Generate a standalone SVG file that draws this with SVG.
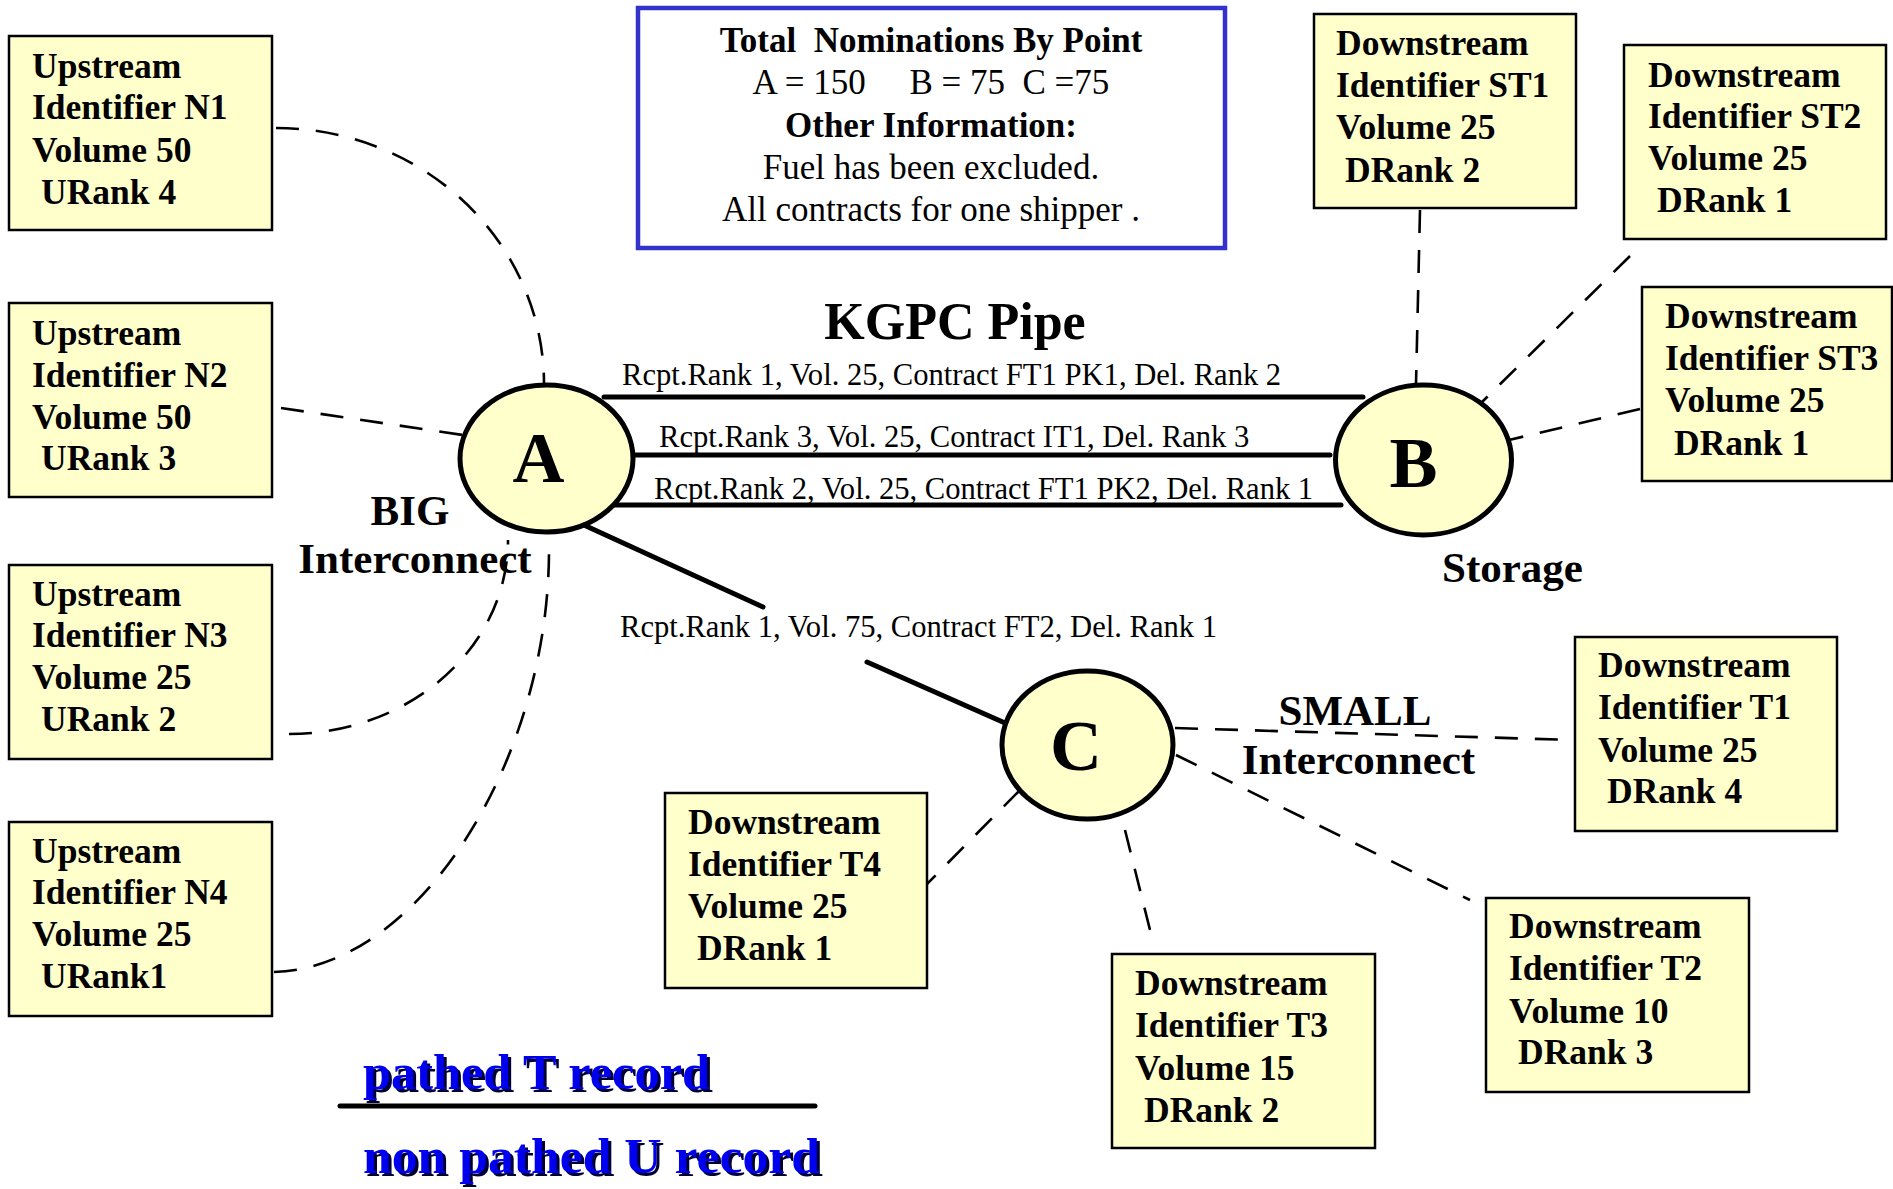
<svg xmlns="http://www.w3.org/2000/svg" width="1893" height="1189" viewBox="0 0 1893 1189">
<style>
  text { font-family: "Liberation Serif", "Times New Roman", serif; fill: #000; }
  .box { fill: #ffffcc; stroke: #000; stroke-width: 2.5; }
  .bt { font-weight: bold; font-size: 35.5px; }
  .node { fill: #ffffcc; stroke: #000; stroke-width: 5; }
  .big { font-weight: bold; font-size: 72px; text-anchor: middle; }
  .dash { fill: none; stroke: #000; stroke-width: 2.6; stroke-dasharray: 23 17; }
  .pipe { fill: none; stroke: #000; stroke-width: 5; stroke-linecap: round; }
  .lbl { font-size: 30.6px; }
  .tag { font-weight: bold; font-size: 43px; text-anchor: middle; }
  .info { font-size: 35px; text-anchor: middle; }
  .infob { font-weight: bold; }
  .leg { font-weight: bold; font-size: 50px; }
  .legfg { fill: #0000ee; }
  .legsh { fill: #000033; }
</style>

<g id="connectors">
  <path class="dash" d="M276,128 A268,256 0 0 1 544,384"/>
  <path class="dash" d="M281,408 L463,435"/>
  <path class="dash" d="M289,734 A219,194 0 0 0 508,540"/>
  <path class="dash" d="M274,972 C420,968 549,760 549,550"/>
  <path class="dash" d="M1420,210 L1416,384"/>
  <path class="dash" d="M1630,256 L1482,402"/>
  <path class="dash" d="M1640,409 L1509,440"/>
  <path class="dash" d="M1175,728 L1572,740"/>
  <path class="dash" d="M1176,755 L1470,900"/>
  <path class="dash" d="M1125,830 L1152,938"/>
  <path class="dash" d="M1020,790 L926,885"/>
  <line class="pipe" x1="604" y1="397" x2="1363" y2="397"/>
  <line class="pipe" x1="632" y1="455" x2="1330" y2="455"/>
  <line class="pipe" x1="611" y1="505" x2="1341" y2="505"/>
  <line class="pipe" x1="586" y1="526" x2="763" y2="607"/>
  <line class="pipe" x1="867" y1="662" x2="1005" y2="723"/>
  <text class="lbl" x="622" y="385">Rcpt.Rank 1, Vol. 25, Contract FT1 PK1, Del. Rank 2</text>
  <text class="lbl" x="659" y="447">Rcpt.Rank 3, Vol. 25, Contract IT1, Del. Rank 3</text>
  <text class="lbl" x="654" y="499">Rcpt.Rank 2, Vol. 25, Contract FT1 PK2, Del. Rank 1</text>
  <text class="lbl" x="620" y="637">Rcpt.Rank 1, Vol. 75, Contract FT2, Del. Rank 1</text>
</g>

<g id="info">
  <rect x="638" y="8" width="587" height="240" fill="#fff" stroke="#3333cc" stroke-width="4.5"/>
  <text class="info infob" x="931" y="52" xml:space="preserve">Total  Nominations By Point</text>
  <text class="info" x="931" y="94" xml:space="preserve">A = 150     B = 75  C =75</text>
  <text class="info infob" x="931" y="137">Other Information:</text>
  <text class="info" x="931" y="179">Fuel has been excluded.</text>
  <text class="info" x="931" y="221">All contracts for one shipper .</text>
</g>

<g id="title">
  <text x="955" y="339" font-weight="bold" font-size="52" text-anchor="middle">KGPC Pipe</text>
</g>

<g id="nodeA">
  <ellipse class="node" cx="546.5" cy="458.5" rx="86.5" ry="73.5"/>
  <text class="big" x="538.5" y="482">A</text>
  <text class="tag" x="410" y="525">BIG</text>
  <text class="tag" x="415" y="573">Interconnect</text>
</g>

<g id="nodeB">
  <ellipse class="node" cx="1423.5" cy="460" rx="88" ry="75"/>
  <text class="big" x="1413.5" y="487">B</text>
  <text class="tag" x="1512.5" y="582">Storage</text>
</g>

<g id="nodeC">
  <ellipse class="node" cx="1087.5" cy="745" rx="85.5" ry="74"/>
  <text class="big" x="1076" y="770">C</text>
  <text class="tag" x="1355" y="725">SMALL</text>
  <text class="tag" x="1358.5" y="774">Interconnect</text>
</g>

<g id="N1">
  <rect class="box" x="9" y="36" width="263" height="194"/>
  <text class="bt" x="32" y="78">Upstream</text>
  <text class="bt" x="32" y="119">Identifier N1</text>
  <text class="bt" x="32" y="162">Volume 50</text>
  <text class="bt" x="41" y="204">URank 4</text>
</g>
<g id="N2">
  <rect class="box" x="9" y="303" width="263" height="194"/>
  <text class="bt" x="32" y="345">Upstream</text>
  <text class="bt" x="32" y="387">Identifier N2</text>
  <text class="bt" x="32" y="429">Volume 50</text>
  <text class="bt" x="41" y="470">URank 3</text>
</g>
<g id="N3">
  <rect class="box" x="9" y="565" width="263" height="194"/>
  <text class="bt" x="32" y="606">Upstream</text>
  <text class="bt" x="32" y="647">Identifier N3</text>
  <text class="bt" x="32" y="689">Volume 25</text>
  <text class="bt" x="41" y="731">URank 2</text>
</g>
<g id="N4">
  <rect class="box" x="9" y="822" width="263" height="194"/>
  <text class="bt" x="32" y="863">Upstream</text>
  <text class="bt" x="32" y="904">Identifier N4</text>
  <text class="bt" x="32" y="946">Volume 25</text>
  <text class="bt" x="41" y="988">URank1</text>
</g>

<g id="ST1">
  <rect class="box" x="1314" y="14" width="262" height="194"/>
  <text class="bt" x="1336" y="55">Downstream</text>
  <text class="bt" x="1336" y="97">Identifier ST1</text>
  <text class="bt" x="1336" y="139">Volume 25</text>
  <text class="bt" x="1345" y="182">DRank 2</text>
</g>
<g id="ST2">
  <rect class="box" x="1624" y="45" width="262" height="194"/>
  <text class="bt" x="1648" y="87">Downstream</text>
  <text class="bt" x="1648" y="128">Identifier ST2</text>
  <text class="bt" x="1648" y="170">Volume 25</text>
  <text class="bt" x="1657" y="212">DRank 1</text>
</g>
<g id="ST3">
  <rect class="box" x="1642" y="287" width="250" height="194"/>
  <text class="bt" x="1665" y="328">Downstream</text>
  <text class="bt" x="1665" y="370">Identifier ST3</text>
  <text class="bt" x="1665" y="412">Volume 25</text>
  <text class="bt" x="1674" y="455">DRank 1</text>
</g>
<g id="T1">
  <rect class="box" x="1575" y="637" width="262" height="194"/>
  <text class="bt" x="1598" y="677">Downstream</text>
  <text class="bt" x="1598" y="719">Identifier T1</text>
  <text class="bt" x="1598" y="762">Volume 25</text>
  <text class="bt" x="1607" y="803">DRank 4</text>
</g>
<g id="T2">
  <rect class="box" x="1486" y="898" width="263" height="194"/>
  <text class="bt" x="1509" y="938">Downstream</text>
  <text class="bt" x="1509" y="980">Identifier T2</text>
  <text class="bt" x="1509" y="1023">Volume 10</text>
  <text class="bt" x="1518" y="1064">DRank 3</text>
</g>
<g id="T3">
  <rect class="box" x="1112" y="954" width="263" height="194"/>
  <text class="bt" x="1135" y="995">Downstream</text>
  <text class="bt" x="1135" y="1037">Identifier T3</text>
  <text class="bt" x="1135" y="1080">Volume 15</text>
  <text class="bt" x="1144" y="1122">DRank 2</text>
</g>
<g id="T4">
  <rect class="box" x="665" y="793" width="262" height="195"/>
  <text class="bt" x="688" y="834">Downstream</text>
  <text class="bt" x="688" y="876">Identifier T4</text>
  <text class="bt" x="688" y="918">Volume 25</text>
  <text class="bt" x="697" y="960">DRank 1</text>
</g>

<g id="legend">
  <text class="leg legsh" x="366" y="1092" textLength="347" lengthAdjust="spacingAndGlyphs">pathed T record</text>
  <text class="leg legfg" x="363" y="1089" textLength="347" lengthAdjust="spacingAndGlyphs">pathed T record</text>
  <line class="pipe" x1="340" y1="1106" x2="815" y2="1106"/>
  <text class="leg legsh" x="366" y="1176" textLength="457" lengthAdjust="spacingAndGlyphs">non pathed U record</text>
  <text class="leg legfg" x="363" y="1173" textLength="457" lengthAdjust="spacingAndGlyphs">non pathed U record</text>
</g>
</svg>
